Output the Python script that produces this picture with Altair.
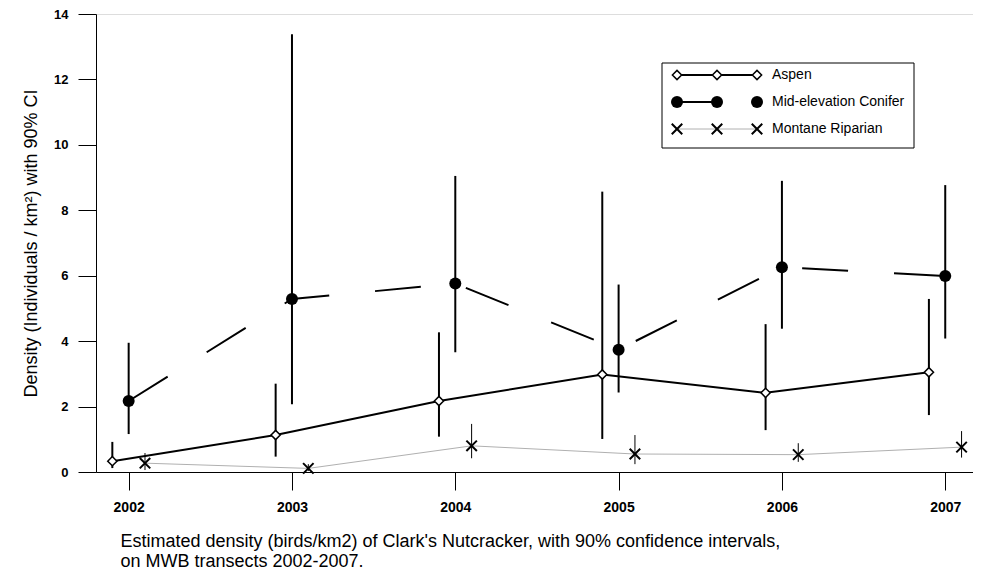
import altair as alt
import pandas as pd

years = [2002, 2003, 2004, 2005, 2006, 2007]
series = ["Aspen", "Mid-elevation Conifer", "Montane Riparian"]

aspen_est = [0.33, 1.13, 2.17, 2.98, 2.42, 3.05]
aspen_lo = [0.12, 0.47, 1.08, 1.01, 1.28, 1.74]
aspen_hi = [0.92, 2.70, 4.27, 8.57, 4.52, 5.29]

conifer_est = [2.17, 5.29, 5.76, 3.74, 6.26, 5.99]
conifer_lo = [1.16, 2.07, 3.66, 2.43, 4.38, 4.08]
conifer_hi = [3.95, 13.38, 9.05, 5.73, 8.90, 8.77]

riparian_est = [0.27, 0.11, 0.80, 0.55, 0.53, 0.76]
riparian_lo = [0.06, 0.03, 0.42, 0.24, 0.31, 0.44]
riparian_hi = [0.58, 0.24, 1.47, 1.13, 0.88, 1.25]

y_ticks = [0, 2, 4, 6, 8, 10, 12, 14]
y_title = "Density (Individuals / km²) with 90% CI"
caption = [
    "Estimated density (birds/km2) of Clark's Nutcracker, with 90% confidence intervals,",
    "on MWB transects 2002-2007.",
]

# horizontal dodge per series (in years)
dodge = {series[0]: -0.1, series[1]: 0.0, series[2]: 0.1}

rows = []
for name, est, lo, hi in [
    (series[0], aspen_est, aspen_lo, aspen_hi),
    (series[1], conifer_est, conifer_lo, conifer_hi),
    (series[2], riparian_est, riparian_lo, riparian_hi),
]:
    for yr, e, l, h in zip(years, est, lo, hi):
        rows.append({"series": name, "year": yr, "xpos": yr + dodge[name],
                     "est": e, "lo": l, "hi": h})
df = pd.DataFrame(rows)

FONT = "Liberation Sans"

X = alt.X("xpos:Q",
          scale=alt.Scale(domain=[2001.8, 2007.17], nice=False, zero=False),
          axis=alt.Axis(values=years, format="d", tickSize=18, labelPadding=10,
                        labelFontWeight="bold", labelFontSize=14, labelColor="black",
                        domainColor="black", tickColor="black", grid=False,
                        title=caption, titleFontSize=18, titleFontWeight="normal",
                        titleColor="black", titleAnchor="start", titleAlign="left",
                        titleBaseline="alphabetic", titleX=24, titleY=74,
                        titleLineHeight=20))
Y = alt.Y("est:Q",
          scale=alt.Scale(domain=[0, 14], nice=False, zero=True),
          axis=alt.Axis(values=y_ticks, tickSize=18, labelPadding=10,
                        labelFontWeight="bold", labelFontSize=13, labelColor="black",
                        domainColor="black", tickColor="black", grid=False,
                        title=y_title, titleFontSize=18, titleFontWeight="normal",
                        titleColor="black", titlePadding=13))

base = alt.Chart(df)

def sel(name):
    return base.transform_filter(alt.datum.series == name)

line_a = sel(series[0]).mark_line(color="black", strokeWidth=2).encode(x=X, y=Y)
line_c = sel(series[1]).mark_line(color="black", strokeWidth=2, strokeDash=[46, 46]).encode(x=X, y=Y)
line_r = sel(series[2]).mark_line(color="#b0b0b0", strokeWidth=1).encode(x=X, y=Y)

err_a = sel(series[0]).mark_rule(color="black", strokeWidth=2).encode(x=X, y=alt.Y("lo:Q"), y2="hi:Q")
err_c = sel(series[1]).mark_rule(color="black", strokeWidth=2).encode(x=X, y=alt.Y("lo:Q"), y2="hi:Q")
err_r = sel(series[2]).mark_rule(color="black", strokeWidth=1).encode(x=X, y=alt.Y("lo:Q"), y2="hi:Q")

XPATH = "M-1,-1L1,1M-1,1L1,-1"

pt_a = sel(series[0]).mark_point(shape="diamond", filled=True, fill="white", stroke="black",
                                 strokeWidth=1.5, size=85, opacity=1).encode(x=X, y=Y)
pt_c = sel(series[1]).mark_point(shape="circle", filled=True, color="black", size=144,
                                 opacity=1).encode(x=X, y=Y)
pt_r = sel(series[2]).mark_point(shape=XPATH, filled=False, color="black", strokeWidth=2,
                                 size=110, opacity=1).encode(x=X, y=Y)

# ---- custom legend (box, sample lines, markers, labels) ----
one = pd.DataFrame({"k": [0]})
leg_box = alt.Chart(one).mark_rect(fill="white", stroke="black", strokeWidth=1).encode(
    x=alt.value(566), x2=alt.value(818), y=alt.value(49), y2=alt.value(134))

LX = [581, 621, 661]
LY = [61, 88, 115]
legend_layers = [leg_box]
# Aspen
legend_layers.append(alt.Chart(one).mark_rule(color="black", strokeWidth=2).encode(
    x=alt.value(LX[0]), x2=alt.value(LX[2]), y=alt.value(LY[0])))
# Conifer (dash covers first two markers only)
legend_layers.append(alt.Chart(one).mark_rule(color="black", strokeWidth=2).encode(
    x=alt.value(LX[0]), x2=alt.value(LX[1]), y=alt.value(LY[1])))
# Riparian
legend_layers.append(alt.Chart(one).mark_rule(color="#b0b0b0", strokeWidth=1).encode(
    x=alt.value(LX[0]), x2=alt.value(LX[2]), y=alt.value(LY[2])))
for lx in LX:
    legend_layers.append(alt.Chart(one).mark_point(
        shape="diamond", filled=True, fill="white", stroke="black", strokeWidth=1.5,
        size=85, opacity=1).encode(x=alt.value(lx), y=alt.value(LY[0])))
    legend_layers.append(alt.Chart(one).mark_point(
        shape="circle", filled=True, color="black", size=144, opacity=1).encode(
        x=alt.value(lx), y=alt.value(LY[1])))
    legend_layers.append(alt.Chart(one).mark_point(
        shape=XPATH, filled=False, color="black", strokeWidth=2, size=110, opacity=1).encode(
        x=alt.value(lx), y=alt.value(LY[2])))
for name, ly in zip(series, LY):
    legend_layers.append(alt.Chart(pd.DataFrame({"s": [name]})).mark_text(
        align="left", baseline="middle", fontSize=14, font=FONT, color="black").encode(
        text="s:N", x=alt.value(676), y=alt.value(ly)))

chart = alt.layer(
    line_r, line_a, line_c,
    err_r, err_a, err_c,
    pt_r, pt_a, pt_c,
    *legend_layers,
).properties(
    width=877, height=458,
    autosize=alt.AutoSizeParams(type="none"),
    padding={"left": 88, "top": 6, "right": 0, "bottom": 99},
).configure_view(stroke=None).configure(font=FONT)

chart.save("out.html", embed_options={"renderer": "svg", "actions": False})
